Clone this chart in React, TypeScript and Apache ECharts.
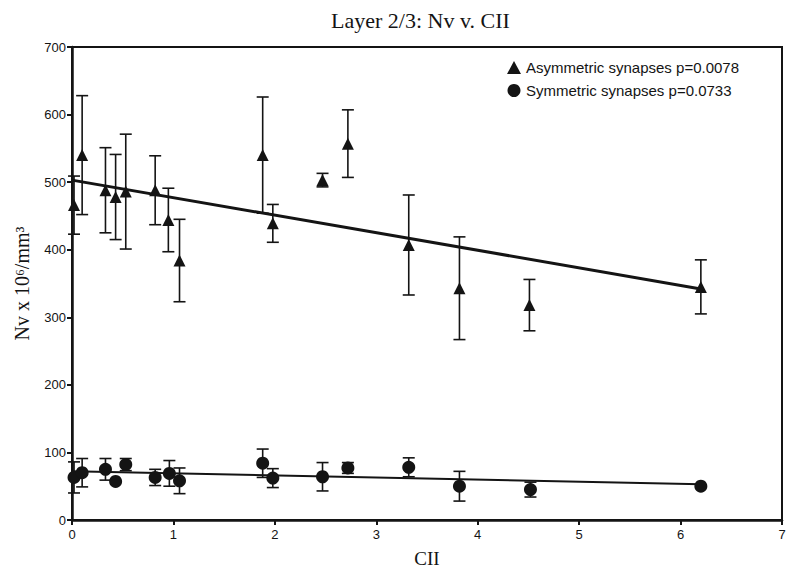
import React, { useEffect, useRef } from "react";
import * as echarts from "echarts";

const asymX = [0.02, 0.1, 0.33, 0.43, 0.53, 0.82, 0.95, 1.06, 1.88, 1.98, 2.47, 2.72, 3.32, 3.82, 4.51, 6.2];
const asymY = [466, 540, 488, 478, 486, 488, 444, 384, 540, 439, 503, 557, 407, 343, 318, 345];
const asymErr = [43, 88, 63, 63, 85, 51, 47, 61, 86, 28, 10, 50, 74, 76, 38, 40];

const symX = [0.02, 0.1, 0.33, 0.43, 0.53, 0.82, 0.96, 1.06, 1.88, 1.98, 2.47, 2.72, 3.32, 3.82, 4.52, 6.2];
const symY = [63, 70, 75, 57, 82, 63, 69, 58, 84, 62, 64, 77, 78, 50, 45, 50];
const symErr = [23, 21, 16, 0, 9, 12, 19, 19, 21, 14, 21, 8, 14, 22, 11, 0];

const asymFitX = [0, 6.2];
const asymFitY = [503, 342];
const symFitX = [0, 6.2];
const symFitY = [72, 53];

const xTicks = [0, 1, 2, 3, 4, 5, 6, 7];
const yTicks = [0, 100, 200, 300, 400, 500, 600, 700];

const ASYM = "Asymmetric synapses p=0.0078";
const SYM = "Symmetric synapses p=0.0733";

const INK = "#141414";

function errData(xs: number[], ys: number[], es: number[]) {
  return xs.map((x, i) => [x, ys[i] - es[i], ys[i] + es[i]]).filter((d, i) => es[i] > 0);
}

function renderErr(params: any, api: any) {
  const x = api.value(0);
  const lo = api.value(1);
  const hi = api.value(2);
  const p1 = api.coord([x, lo]);
  const p2 = api.coord([x, hi]);
  const w = 6;
  const style = { stroke: INK, lineWidth: 1.6 };
  return {
    type: "group",
    children: [
      { type: "line", shape: { x1: p1[0], y1: p1[1], x2: p2[0], y2: p2[1] }, style },
      { type: "line", shape: { x1: p1[0] - w, y1: p1[1], x2: p1[0] + w, y2: p1[1] }, style },
      { type: "line", shape: { x1: p2[0] - w, y1: p2[1], x2: p2[0] + w, y2: p2[1] }, style },
    ],
  };
}

export default function App() {
  const ref = useRef<HTMLDivElement>(null);
  useEffect(() => {
    if (!ref.current) return;
    const chart = echarts.init(ref.current, undefined, { renderer: "svg" });
    const option: any = {
      animation: false,
      backgroundColor: "#ffffff",
      title: {
        text: "Layer 2/3: Nv v. CII",
        left: 326,
        top: 4,
        textStyle: { fontFamily: "Liberation Serif", fontWeight: "normal", fontSize: 22, color: INK },
      },
      grid: {
        left: 72,
        right: 14,
        top: 47,
        bottom: 54,
        show: true,
        borderColor: INK,
        borderWidth: 2,
        backgroundColor: "transparent",
      },
      legend: {
        orient: "vertical",
        left: 502,
        top: 55,
        itemWidth: 14,
        itemHeight: 13,
        itemGap: 8,
        textStyle: { fontFamily: "Liberation Sans", fontSize: 15, color: INK },
        data: [
          { name: ASYM, icon: "triangle" },
          { name: SYM, icon: "circle" },
        ],
      },
      xAxis: {
        type: "value",
        min: xTicks[0],
        max: xTicks[xTicks.length - 1],
        interval: 1,
        name: "CII",
        nameLocation: "middle",
        nameGap: 29,
        nameTextStyle: { fontFamily: "Liberation Serif", fontSize: 19, color: INK },
        splitLine: { show: false },
        axisLine: { lineStyle: { color: INK, width: 2.5 } },
        axisTick: { length: 5, lineStyle: { color: INK, width: 2 } },
        axisLabel: { fontFamily: "Liberation Sans", fontSize: 13, color: INK, margin: 8 },
      },
      yAxis: {
        type: "value",
        min: yTicks[0],
        max: yTicks[yTicks.length - 1],
        interval: 100,
        name: "Nv x 10⁶/mm³",
        nameLocation: "middle",
        nameGap: 40,
        nameRotate: 90,
        nameTextStyle: { fontFamily: "Liberation Serif", fontSize: 20, color: INK },
        splitLine: { show: false },
        axisLine: { lineStyle: { color: INK, width: 2.5 } },
        axisTick: { length: 5, lineStyle: { color: INK, width: 2 } },
        axisLabel: { fontFamily: "Liberation Sans", fontSize: 13, color: INK, margin: 6 },
      },
      series: [
        {
          type: "custom",
          renderItem: renderErr,
          data: errData(asymX, asymY, asymErr),
          encode: { x: 0, y: [1, 2] },
          silent: true,
          z: 2,
        },
        {
          type: "custom",
          renderItem: renderErr,
          data: errData(symX, symY, symErr),
          encode: { x: 0, y: [1, 2] },
          silent: true,
          z: 2,
        },
        {
          type: "line",
          data: asymFitX.map((x, i) => [x, asymFitY[i]]),
          symbol: "none",
          lineStyle: { color: INK, width: 3 },
          z: 3,
        },
        {
          type: "line",
          data: symFitX.map((x, i) => [x, symFitY[i]]),
          symbol: "none",
          lineStyle: { color: INK, width: 2 },
          z: 3,
        },
        {
          name: ASYM,
          type: "scatter",
          symbol: "triangle",
          symbolSize: 12,
          itemStyle: { color: INK, opacity: 1 },
          data: asymX.map((x, i) => [x, asymY[i]]),
          z: 4,
        },
        {
          name: SYM,
          type: "scatter",
          symbol: "circle",
          symbolSize: 13,
          itemStyle: { color: INK, opacity: 1 },
          data: symX.map((x, i) => [x, symY[i]]),
          z: 4,
        },
      ],
    };
    chart.setOption(option);
    return () => chart.dispose();
  }, []);
  return <div ref={ref} style={{ width: 796, height: 574, position: "absolute", left: 0, top: 0 }} />;
}
